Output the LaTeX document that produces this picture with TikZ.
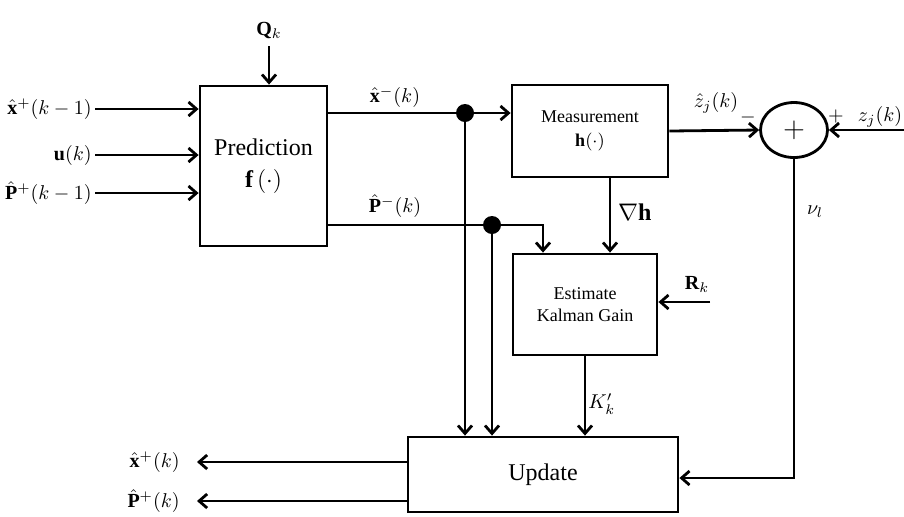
\documentclass[tikz,border=0pt]{standalone}
\usepackage{amsmath,amssymb}
\usepackage{fontspec}
\setmainfont{Liberation Serif}
\usetikzlibrary{arrows.meta,shapes.geometric}

\begin{document}
\begin{tikzpicture}[x=0.5pt,y=-0.5pt,line width=1.4pt,>={Straight Barb[length=4pt,width=7pt]},
  blk/.style={draw,rectangle,align=center,inner sep=0pt}]
\useasboundingbox (0,0) rectangle (904,516);
% blocks
\node[blk,minimum width=63.5pt,minimum height=80pt,font=\large] (pred) at (263.5,166) {Prediction\\[2pt]$\mathbf{f}\,(\cdot)$};
\node[blk,minimum width=78pt,minimum height=46pt,font=\small] (meas) at (590,131) {Measurement\\[1pt]$\mathbf{h}(\cdot)$};
\node[blk,minimum width=72pt,minimum height=50.5pt,font=\small] (gain) at (585,304.5) {Estimate\\Kalman Gain};
\node[blk,minimum width=135pt,minimum height=37.5pt,font=\large] (upd) at (543,474.5) {Update};
\node[draw,ellipse,minimum width=33.5pt,minimum height=27.5pt,inner sep=0pt,font=\Large] (sum) at (794,130) {$+$};
% inputs
\node (qk) at (269,30) {$\mathbf{Q}_k$};
\draw[->] (qk.south) -- (qk.south |- pred.north);
\foreach \y/\lab/\nm in {109/{\hat{\mathbf{x}}^{+}(k-1)}/xin,155/{\mathbf{u}(k)}/uin,193/{\hat{\mathbf{P}}^{+}(k-1)}/pin} {
  \node[left,inner sep=1pt] (\nm) at (95,\y) {$\lab$};
  \draw[->] (\nm.east) -- (\nm.east -| pred.west);}
% prediction outputs
\coordinate (dx) at (465,113);\coordinate (dp) at (492,225);\coordinate (pk) at (543,225);
\node at (395,97) {$\hat{\mathbf{x}}^{-}(k)$};\node at (395,206) {$\hat{\mathbf{P}}^{-}(k)$};
\draw (pred.east |- dx) -- (dx);\draw[->] (dx) -- (meas.west |- dx);
\draw[->] (pred.east |- dp) -- (pk) -- (pk |- gain.north);
\foreach \c in {dx,dp} {\fill (\c) circle (4.5pt);\draw[->] (\c) -- (\c |- upd.north);}
% measurement and gain
\draw[->] ([xshift=10pt]meas.south) -- ([xshift=10pt]meas.south |- gain.north) node[pos=0.45,right,font=\large] {$\nabla\mathbf{h}$};
\coordinate (rk) at (710,302);\node at (697,284) {$\mathbf{R}_k$};
\draw[->] (rk) -- (rk -| gain.east);
\draw[->] (gain.south) -- (gain.south |- upd.north) node[pos=0.6,right,inner sep=1pt] {$K'_k$};
% innovation
\draw[->] (meas.east) -- (sum.west);
\node at (716,103) {$\hat{z}_j(k)$};\node at (748,117) {$-$};\node at (836,116) {$+$};
\coordinate (zin) at (904,130);\node at (880,117) {$z_j(k)$};
\draw[->] (zin) -- (sum.east);
\coordinate (nu) at (794,478);
\draw[->] (sum.south) -- (nu) -- (nu -| upd.east);
\node at (815,212) {$\nu_l$};
% outputs
\coordinate (ox) at (197,462);\coordinate (op) at (197,501);
\draw[->] (upd.west |- ox) -- (ox) node[left,inner sep=8pt] {$\hat{\mathbf{x}}^{+}(k)$};
\draw[->] (upd.west |- op) -- (op) node[left,inner sep=8pt] {$\hat{\mathbf{P}}^{+}(k)$};
\end{tikzpicture}
\end{document}
